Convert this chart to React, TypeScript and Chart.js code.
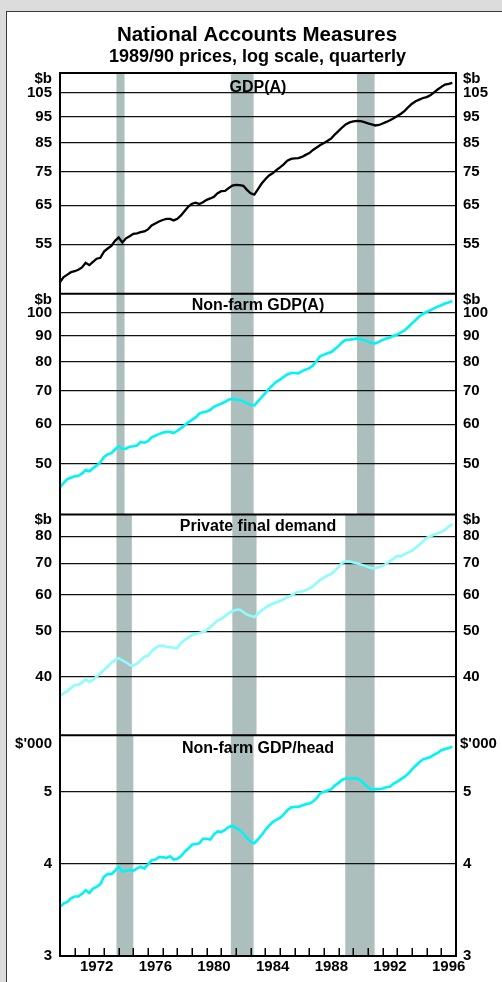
import React, { useEffect, useRef } from "react";
import { Chart, registerables } from "chart.js";

Chart.register(...registerables);

const FONT = "'Liberation Sans', Arial, Helvetica, sans-serif";

// Quarterly observations, Mar-1970 .. Dec-1996 (x = decimal year)
const quarterDates = Array.from({ length: 108 }, (_, i) => 1970 + i * 0.25);

const gdpA = [
  46.8, 47.8, 48.3, 48.8, 49.0, 49.3, 49.8, 50.8, 50.3, 51.0,
  51.7, 51.9, 53.3, 54.0, 54.6, 55.8, 56.6, 55.4, 56.4, 56.9,
  57.5, 57.6, 57.9, 58.1, 58.6, 59.6, 60.1, 60.6, 61.0, 61.3,
  61.3, 60.9, 61.3, 62.2, 63.4, 64.6, 65.4, 65.7, 65.3, 65.8,
  66.5, 66.9, 67.4, 68.4, 69.0, 69.1, 69.9, 70.7, 70.9, 70.8,
  70.6, 69.4, 68.4, 68.0, 69.6, 71.3, 72.6, 73.8, 74.5, 75.5,
  76.4, 77.4, 78.6, 79.2, 79.4, 79.5, 79.9, 80.6, 81.2, 82.3,
  83.2, 84.1, 84.8, 85.6, 86.5, 88.0, 89.3, 90.7, 91.9, 92.6,
  93.0, 93.2, 93.1, 92.7, 92.2, 91.8, 91.4, 91.6, 92.2, 92.8,
  93.5, 94.3, 95.2, 96.1, 97.3, 98.9, 100.3, 101.4, 102.1, 102.8,
  103.2, 104.0, 105.3, 106.6, 107.8, 108.9, 109.2, 109.7,
];

const nonFarmGdpA = [
  44.9, 45.8, 46.6, 46.9, 47.2, 47.3, 47.8, 48.6, 48.3, 49.0,
  49.6, 50.3, 51.6, 52.2, 52.5, 53.4, 54.2, 53.6, 53.6, 54.1,
  54.2, 54.4, 55.3, 55.1, 55.5, 56.5, 56.9, 57.3, 57.7, 57.9,
  57.9, 57.6, 58.2, 58.9, 59.7, 60.5, 61.2, 61.9, 63.0, 63.4,
  63.6, 64.1, 65.0, 65.5, 65.9, 66.5, 67.1, 67.4, 67.2, 67.1,
  66.6, 66.0, 65.6, 65.4, 66.6, 67.9, 69.2, 70.6, 71.8, 72.9,
  73.6, 74.6, 75.4, 75.9, 75.9, 75.8, 76.6, 77.1, 77.6, 78.6,
  80.2, 82.1, 82.6, 83.1, 83.6, 84.8, 86.0, 87.5, 88.4, 88.5,
  88.7, 89.0, 88.7, 88.3, 87.7, 87.2, 87.0, 87.6, 88.4, 89.0,
  89.4, 90.1, 90.6, 91.5, 92.4, 93.8, 95.4, 96.9, 98.4, 99.7,
  100.5, 101.3, 102.2, 103.0, 103.7, 104.5, 105.0, 105.7,
];

const privateFinalDemand = [
  36.3, 36.8, 37.2, 37.8, 38.3, 38.4, 38.8, 39.4, 38.9, 39.3,
  40.0, 40.6, 41.3, 42.0, 42.8, 43.3, 43.8, 43.3, 42.9, 42.3,
  42.2, 42.6, 43.3, 44.1, 44.3, 45.3, 46.0, 46.5, 46.6, 46.3,
  46.2, 46.1, 46.0, 47.2, 47.9, 48.5, 49.1, 49.4, 49.6, 49.8,
  50.3, 51.1, 51.9, 52.8, 53.2, 53.9, 54.7, 55.2, 55.6, 55.7,
  55.0, 54.3, 54.0, 53.6, 54.6, 55.4, 56.2, 56.8, 57.3, 57.7,
  58.0, 58.6, 59.2, 59.6, 60.3, 60.8, 60.9, 61.3, 61.8, 62.5,
  63.5, 64.5, 65.2, 65.9, 66.4, 67.5, 68.8, 70.2, 70.7, 70.6,
  70.3, 70.0, 69.6, 69.2, 68.7, 68.3, 68.3, 68.7, 69.1, 69.8,
  70.8, 71.6, 72.6, 72.4, 73.2, 73.9, 74.5, 75.6, 76.7, 78.0,
  79.4, 80.0, 80.6, 81.2, 81.7, 82.6, 83.9, 85.0,
];

const nonFarmGdpPerHead = [
  3.50, 3.53, 3.55, 3.59, 3.61, 3.61, 3.64, 3.68, 3.65, 3.70,
  3.72, 3.75, 3.84, 3.87, 3.87, 3.91, 3.96, 3.90, 3.91, 3.92,
  3.91, 3.94, 3.96, 3.94, 3.99, 4.04, 4.05, 4.08, 4.08, 4.07,
  4.09, 4.05, 4.06, 4.09, 4.15, 4.19, 4.24, 4.25, 4.26, 4.32,
  4.32, 4.31, 4.38, 4.42, 4.41, 4.44, 4.48, 4.50, 4.47, 4.44,
  4.39, 4.33, 4.28, 4.26, 4.31, 4.37, 4.44, 4.50, 4.55, 4.58,
  4.61, 4.66, 4.72, 4.76, 4.77, 4.77, 4.79, 4.81, 4.82, 4.85,
  4.90, 4.98, 5.00, 5.02, 5.04, 5.10, 5.14, 5.19, 5.21, 5.21,
  5.21, 5.21, 5.18, 5.12, 5.07, 5.03, 5.04, 5.04, 5.05, 5.07,
  5.08, 5.13, 5.16, 5.20, 5.24, 5.29, 5.36, 5.42, 5.48, 5.53,
  5.55, 5.57, 5.61, 5.64, 5.69, 5.71, 5.73, 5.75,
];

const gdpTicks = [55, 65, 75, 85, 95, 105];
const nonFarmTicks = [50, 60, 70, 80, 90, 100];
const pfdTicks = [40, 50, 60, 70, 80];
const perHeadTicks = [3, 4, 5];

const yearLabels = [1972, 1976, 1980, 1984, 1988, 1992, 1996];
const yearTickMarks = [
  1971, 1972, 1973, 1974, 1975, 1976, 1977, 1978, 1979, 1980, 1981, 1982, 1983,
  1984, 1985, 1986, 1987, 1988, 1989, 1990, 1991, 1992, 1993, 1994, 1995, 1996,
];

// Shaded periods (decimal years) per panel
const bandsGdp = [[1973.85, 1974.4], [1981.65, 1983.2], [1990.25, 1991.45]];
const bandsNonFarm = [[1973.85, 1974.4], [1981.65, 1983.2], [1990.25, 1991.45]];
const bandsPfd = [[1973.85, 1974.9], [1981.75, 1983.4], [1989.45, 1991.45]];
const bandsPerHead = [[1973.85, 1975.0], [1981.65, 1983.2], [1989.45, 1991.45]];

const BAND = "#acbfbd";

const panels = [
  { id: "p1", title: "GDP(A)", unit: "$b", min: 44.5, max: 114.4, ticks: gdpTicks, data: gdpA, color: "#000000", width: 2.3, bands: bandsGdp, titleOff: 19, unitOff: 5.5, unitPadR: 7 },
  { id: "p2", title: "Non-farm GDP(A)", unit: "$b", min: 39.6, max: 109.3, ticks: nonFarmTicks, data: nonFarmGdpA, color: "#00f4f4", width: 2.6, bands: bandsNonFarm, titleOff: 16, unitOff: 6, unitPadR: 7 },
  { id: "p3", title: "Private final demand", unit: "$b", min: 29.9, max: 89.1, ticks: pfdTicks, data: privateFinalDemand, color: "#8cfcfc", width: 2.6, bands: bandsPfd, titleOff: 16, unitOff: 5.5, unitPadR: 7 },
  { id: "p4", title: "Non-farm GDP/head", unit: "$'000", min: 3, max: 5.96, ticks: perHeadTicks, data: nonFarmGdpPerHead, color: "#00f4f4", width: 2.6, bands: bandsPerHead, titleOff: 18, unitOff: 9, unitPadR: 4 },
];

const tickFont = { family: FONT, weight: "bold" as const, size: 15 };

const panelPlugin = {
  id: "panelPlugin",
  beforeDraw(chart: any) {
    const ctx = chart.ctx;
    const xs = chart.scales.x;
    ctx.save();
    ctx.fillStyle = BAND;
    panels.forEach((p) => {
      const ys = chart.scales[p.id + "L"];
      p.bands.forEach(([a, b]) => {
        const x0 = xs.getPixelForValue(a);
        const x1 = xs.getPixelForValue(b);
        ctx.fillRect(x0, ys.top, x1 - x0, ys.bottom - ys.top);
      });
    });
    ctx.restore();
  },
  afterDraw(chart: any) {
    const ctx = chart.ctx;
    const xs = chart.scales.x;
    const { left, right, top, bottom } = chart.chartArea;
    ctx.save();
    // frame and panel separators
    ctx.strokeStyle = "#000";
    ctx.lineWidth = 2;
    ctx.beginPath();
    panels.forEach((p) => {
      const ys = chart.scales[p.id + "L"];
      ctx.moveTo(left, ys.top);
      ctx.lineTo(right, ys.top);
    });
    ctx.moveTo(left, top - 1);
    ctx.lineTo(left, bottom);
    ctx.lineTo(right, bottom);
    ctx.lineTo(right, top - 1);
    ctx.stroke();
    // inside tick marks on the time axis
    ctx.lineWidth = 1.5;
    ctx.beginPath();
    yearTickMarks.forEach((yr) => {
      const x = Math.round(xs.getPixelForValue(yr)) + 0.25;
      ctx.moveTo(x, bottom);
      ctx.lineTo(x, bottom - 8);
    });
    ctx.stroke();
    // panel titles and units
    ctx.fillStyle = "#000";
    panels.forEach((p) => {
      const ys = chart.scales[p.id + "L"];
      ctx.font = `bold 16px ${FONT}`;
      ctx.textAlign = "center";
      ctx.textBaseline = "alphabetic";
      ctx.fillText(p.title, 258, ys.top + p.titleOff);
      ctx.font = `bold 15px ${FONT}`;
      ctx.textBaseline = "middle";
      ctx.textAlign = "right";
      ctx.fillText(p.unit, left - 8, ys.top + p.unitOff);
      ctx.textAlign = "left";
      ctx.fillText(p.unit, right + p.unitPadR, ys.top + p.unitOff);
    });
    // main titles
    ctx.textAlign = "center";
    ctx.textBaseline = "alphabetic";
    ctx.font = `bold 20.5px ${FONT}`;
    ctx.fillText("National Accounts Measures", 257, 40.7);
    ctx.font = `bold 18px ${FONT}`;
    ctx.fillText("1989/90 prices, log scale, quarterly", 257.5, 61.7);
    ctx.restore();
  },
};

export default function App() {
  const ref = useRef<HTMLCanvasElement>(null);

  useEffect(() => {
    if (!ref.current) return;
    const scales: any = {
      x: {
        type: "linear",
        position: "bottom",
        min: 1970,
        max: 1997,
        afterBuildTicks: (s: any) => {
          s.ticks = yearLabels.map((y) => ({ value: y + 0.5 }));
        },
        afterFit: (s: any) => {
          s.height = 26;
        },
        grid: { display: false, drawTicks: false },
        border: { display: false },
        ticks: {
          autoSkip: false,
          maxRotation: 0,
          padding: 2,
          color: "#000",
          font: tickFont,
          callback: (v: any) => String(Math.floor(Number(v))),
        },
      },
    };
    panels.forEach((p, k) => {
      scales[p.id + "L"] = {
        type: "logarithmic",
        position: "left",
        stack: "left",
        stackWeight: 1,
        weight: 4 - k,
        min: p.min,
        max: p.max,
        bounds: "data",
        afterBuildTicks: (s: any) => {
          s.ticks = p.ticks.map((v) => ({ value: v }));
        },
        afterFit: (s: any) => {
          s.width = 52;
        },
        grid: { color: "#111", lineWidth: 1.2, drawTicks: false },
        border: { display: false },
        ticks: {
          autoSkip: false,
          padding: 8,
          color: "#000",
          font: tickFont,
          callback: (v: any) => String(v),
        },
      };
      scales[p.id + "R"] = {
        type: "logarithmic",
        position: "right",
        stack: "right",
        stackWeight: 1,
        weight: k + 1,
        min: p.min,
        max: p.max,
        bounds: "data",
        afterBuildTicks: (s: any) => {
          s.ticks = p.ticks.map((v) => ({ value: v }));
        },
        afterFit: (s: any) => {
          s.width = 46;
        },
        grid: { display: false, drawTicks: false },
        border: { display: false },
        ticks: {
          autoSkip: false,
          padding: 7,
          color: "#000",
          font: tickFont,
          callback: (v: any) => String(v),
        },
      };
    });

    const chart = new Chart(ref.current, {
      type: "line",
      data: {
        datasets: panels.map((p) => ({
          label: p.title,
          data: quarterDates.map((d, i) => ({ x: d, y: p.data[i] })),
          xAxisID: "x",
          yAxisID: p.id + "L",
          borderColor: p.color,
          borderWidth: p.width,
          pointRadius: 0,
          tension: 0,
          fill: false,
        })),
      },
      options: {
        responsive: false,
        animation: false,
        devicePixelRatio: 1,
        layout: { padding: { left: 8, top: 73, right: 0, bottom: 0 } },
        plugins: {
          legend: { display: false },
          tooltip: { enabled: false },
          title: { display: false },
        },
        scales,
      },
      plugins: [panelPlugin],
    });
    return () => chart.destroy();
  }, []);

  return (
    <div style={{ position: "absolute", left: 0, top: 0, width: 502, height: 982, background: "#dcdcdc", overflow: "hidden" }}>
      <div style={{ position: "absolute", left: 6, top: 11, width: 500, height: 975, background: "#fff", borderLeft: "1.5px solid #3a3a3a", borderTop: "1.5px solid #3a3a3a" }} />
      <canvas ref={ref} width={502} height={982} style={{ position: "absolute", left: 0, top: 0, width: 502, height: 982 }} />
    </div>
  );
}
